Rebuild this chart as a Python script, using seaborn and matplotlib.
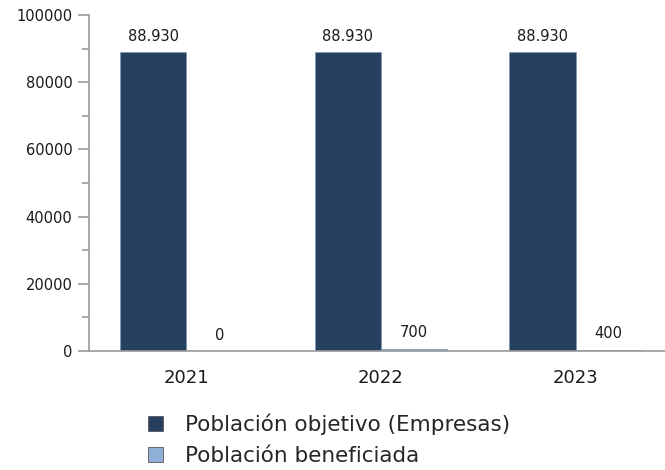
import matplotlib
matplotlib.use("Agg")
import matplotlib.pyplot as plt
from matplotlib.patches import Patch
from matplotlib.ticker import MultipleLocator
import pandas as pd
import seaborn as sns

# data
years = ["2021", "2022", "2023"]
poblacion_objetivo = [88930, 88930, 88930]
poblacion_beneficiada = [0, 700, 400]
series_names = ["Población objetivo (Empresas)", "Población beneficiada"]
colors = ["#27405f", "#8fb0d8"]

df = pd.DataFrame({
    "year": years * 2,
    "value": poblacion_objetivo + poblacion_beneficiada,
    "serie": [series_names[0]] * 3 + [series_names[1]] * 3,
})

sns.set_style("white")
plt.rcParams["font.family"] = ["DejaVu Sans"]

fig = plt.figure(figsize=(6.65, 4.70), dpi=100)
ax = fig.add_axes([0.134, 0.253, 0.866, 0.715])

sns.barplot(data=df, x="year", y="value", hue="serie", palette=colors,
            saturation=1, width=0.68, gap=0, edgecolor="#7d97b8",
            linewidth=0.5, legend=False, ax=ax)

def fmt(v):
    return f"{v:,}".replace(",", ".")

# value labels above each bar
for cont in ax.containers:
    ax.bar_label(cont, labels=[fmt(int(b.get_height())) for b in cont],
                 padding=6, fontsize=10.5, color="#1a1a1a")

ax.set_ylim(0, 100000)
ax.set_xlim(-0.5, 2.46)
ax.yaxis.set_major_locator(MultipleLocator(20000))
ax.yaxis.set_minor_locator(MultipleLocator(10000))
ax.tick_params(axis="y", which="both", left=True, direction="out",
               color="#999999", width=1.2, labelsize=10.5, labelcolor="#1a1a1a")
ax.tick_params(axis="y", which="major", length=8, pad=4)
ax.tick_params(axis="y", which="minor", length=5)
ax.tick_params(axis="x", length=0, labelsize=13, pad=13, labelcolor="#1a1a1a")
ax.set_xlabel("")
ax.set_ylabel("")
for s in ["top", "right"]:
    ax.spines[s].set_visible(False)
for s in ["left", "bottom"]:
    ax.spines[s].set_color("#999999")
    ax.spines[s].set_linewidth(1.2)

handles = [Patch(facecolor=c, edgecolor="#555555", linewidth=0.6) for c in colors]
fig.legend(handles, series_names, loc="upper left", bbox_to_anchor=(0.206, 0.143),
           frameon=False, fontsize=15.5, handlelength=0.72, handleheight=0.72,
           handletextpad=1.0, labelspacing=0.5, borderpad=0)

fig.savefig("out.png", dpi=100)
